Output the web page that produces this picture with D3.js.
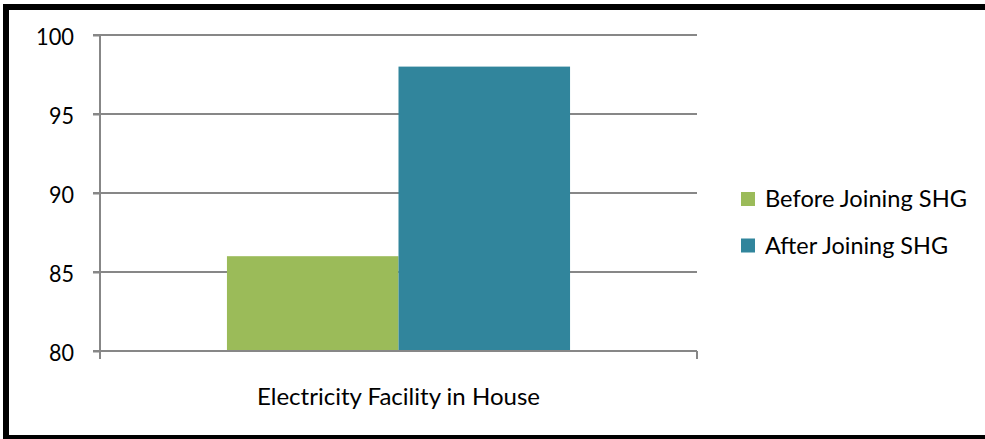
<!DOCTYPE html>
<html>
<head>
<meta charset="utf-8">
<script src="https://cdn.jsdelivr.net/npm/d3@7/dist/d3.min.js"></script>
<style>
  html, body { margin: 0; padding: 0; background: #fff; }
  svg { display: block; }
  text { font-family: Lato, "Open Sans", sans-serif; fill: #000; }
</style>
</head>
<body>
<svg id="chart" width="985" height="439"></svg>
<script>
// Data
const categories = ["Electricity Facility in House"];
const seriesNames = ["Before Joining SHG", "After Joining SHG"];
const beforeValues = [86];
const afterValues = [98];
const yTicks = [80, 85, 90, 95, 100];
const seriesColors = ["#9BBB59", "#31859C"];

const seriesValues = [beforeValues, afterValues];
const rows = categories.map((c, i) => ({
  category: c,
  values: seriesNames.map((s, j) => ({ series: s, value: seriesValues[j][i], color: seriesColors[j] }))
}));

const svg = d3.select("#chart");

// Outer frame
svg.append("rect")
  .attr("x", 6).attr("y", 7)
  .attr("width", 1000).attr("height", 431)
  .attr("fill", "none").attr("stroke", "#000").attr("stroke-width", 6);

const plot = { left: 100, right: 697, top: 35, bottom: 351 };
const axisColor = "#878787";

const y = d3.scaleLinear().domain([80, 100]).range([plot.bottom, plot.top]);
const x0 = d3.scaleBand().domain(categories).range([plot.left, plot.right])
  .paddingInner(0).paddingOuter(0.37);
const x1 = d3.scaleBand().domain(seriesNames).range([0, x0.bandwidth()]);

// Horizontal gridlines (with left tick stubs)
svg.append("g").selectAll("line")
  .data(yTicks.filter(t => t !== 80))
  .join("line")
  .attr("x1", plot.left - 7).attr("x2", plot.right)
  .attr("y1", d => y(d)).attr("y2", d => y(d))
  .attr("stroke", axisColor).attr("stroke-width", 2);

// Bars
svg.append("g").selectAll("g")
  .data(rows)
  .join("g")
  .attr("transform", d => `translate(${x0(d.category)},0)`)
  .selectAll("rect")
  .data(d => d.values)
  .join("rect")
  .attr("x", d => x1(d.series))
  .attr("width", x1.bandwidth())
  .attr("y", d => y(d.value))
  .attr("height", d => y(80) - y(d.value))
  .attr("fill", d => d.color);

// Left axis
const yAxis = d3.axisLeft(y).tickValues(yTicks).tickSize(7).tickPadding(0);
const gy = svg.append("g").attr("transform", `translate(${plot.left},0)`).call(yAxis);
gy.select(".domain").remove();
gy.selectAll(".tick line").attr("stroke", axisColor).attr("stroke-width", 2);
gy.selectAll(".tick text").remove();
gy.append("line")
  .attr("x1", 0).attr("x2", 0)
  .attr("y1", plot.top).attr("y2", plot.bottom + 8)
  .attr("stroke", axisColor).attr("stroke-width", 2);

// Tick labels
const tickLabelWidths = { 100: 38, 95: 25, 90: 25, 85: 25, 80: 25 };
svg.append("g").selectAll("text")
  .data(yTicks)
  .join("text")
  .attr("x", 74)
  .attr("y", d => y(d) + 10)
  .attr("text-anchor", "end")
  .attr("font-size", 24)
  .attr("textLength", d => tickLabelWidths[d])
  .attr("lengthAdjust", "spacingAndGlyphs")
  .text(d => d);

// Bottom axis
svg.append("line")
  .attr("x1", plot.left - 7).attr("x2", plot.right)
  .attr("y1", plot.bottom).attr("y2", plot.bottom)
  .attr("stroke", axisColor).attr("stroke-width", 2);
svg.append("line")
  .attr("x1", plot.right).attr("x2", plot.right)
  .attr("y1", plot.bottom).attr("y2", plot.bottom + 8)
  .attr("stroke", axisColor).attr("stroke-width", 2);

// Category label
svg.append("g").selectAll("text")
  .data(categories)
  .join("text")
  .attr("x", d => x0(d) + x0.bandwidth() / 2)
  .attr("y", 405)
  .attr("text-anchor", "middle")
  .attr("font-size", 24)
  .attr("textLength", 283)
  .attr("lengthAdjust", "spacingAndGlyphs")
  .text(d => d);

// Legend
const legendWidths = [202, 183];
const legend = svg.append("g").selectAll("g")
  .data(seriesNames)
  .join("g")
  .attr("transform", (d, i) => `translate(741,${192 + i * 46.5})`);
legend.append("rect")
  .attr("width", 14).attr("height", 14)
  .attr("fill", (d, i) => seriesColors[i]);
legend.append("text")
  .attr("x", 24).attr("y", 15)
  .attr("font-size", 24)
  .attr("textLength", (d, i) => legendWidths[i])
  .attr("lengthAdjust", "spacingAndGlyphs")
  .text(d => d);
</script>
</body>
</html>
